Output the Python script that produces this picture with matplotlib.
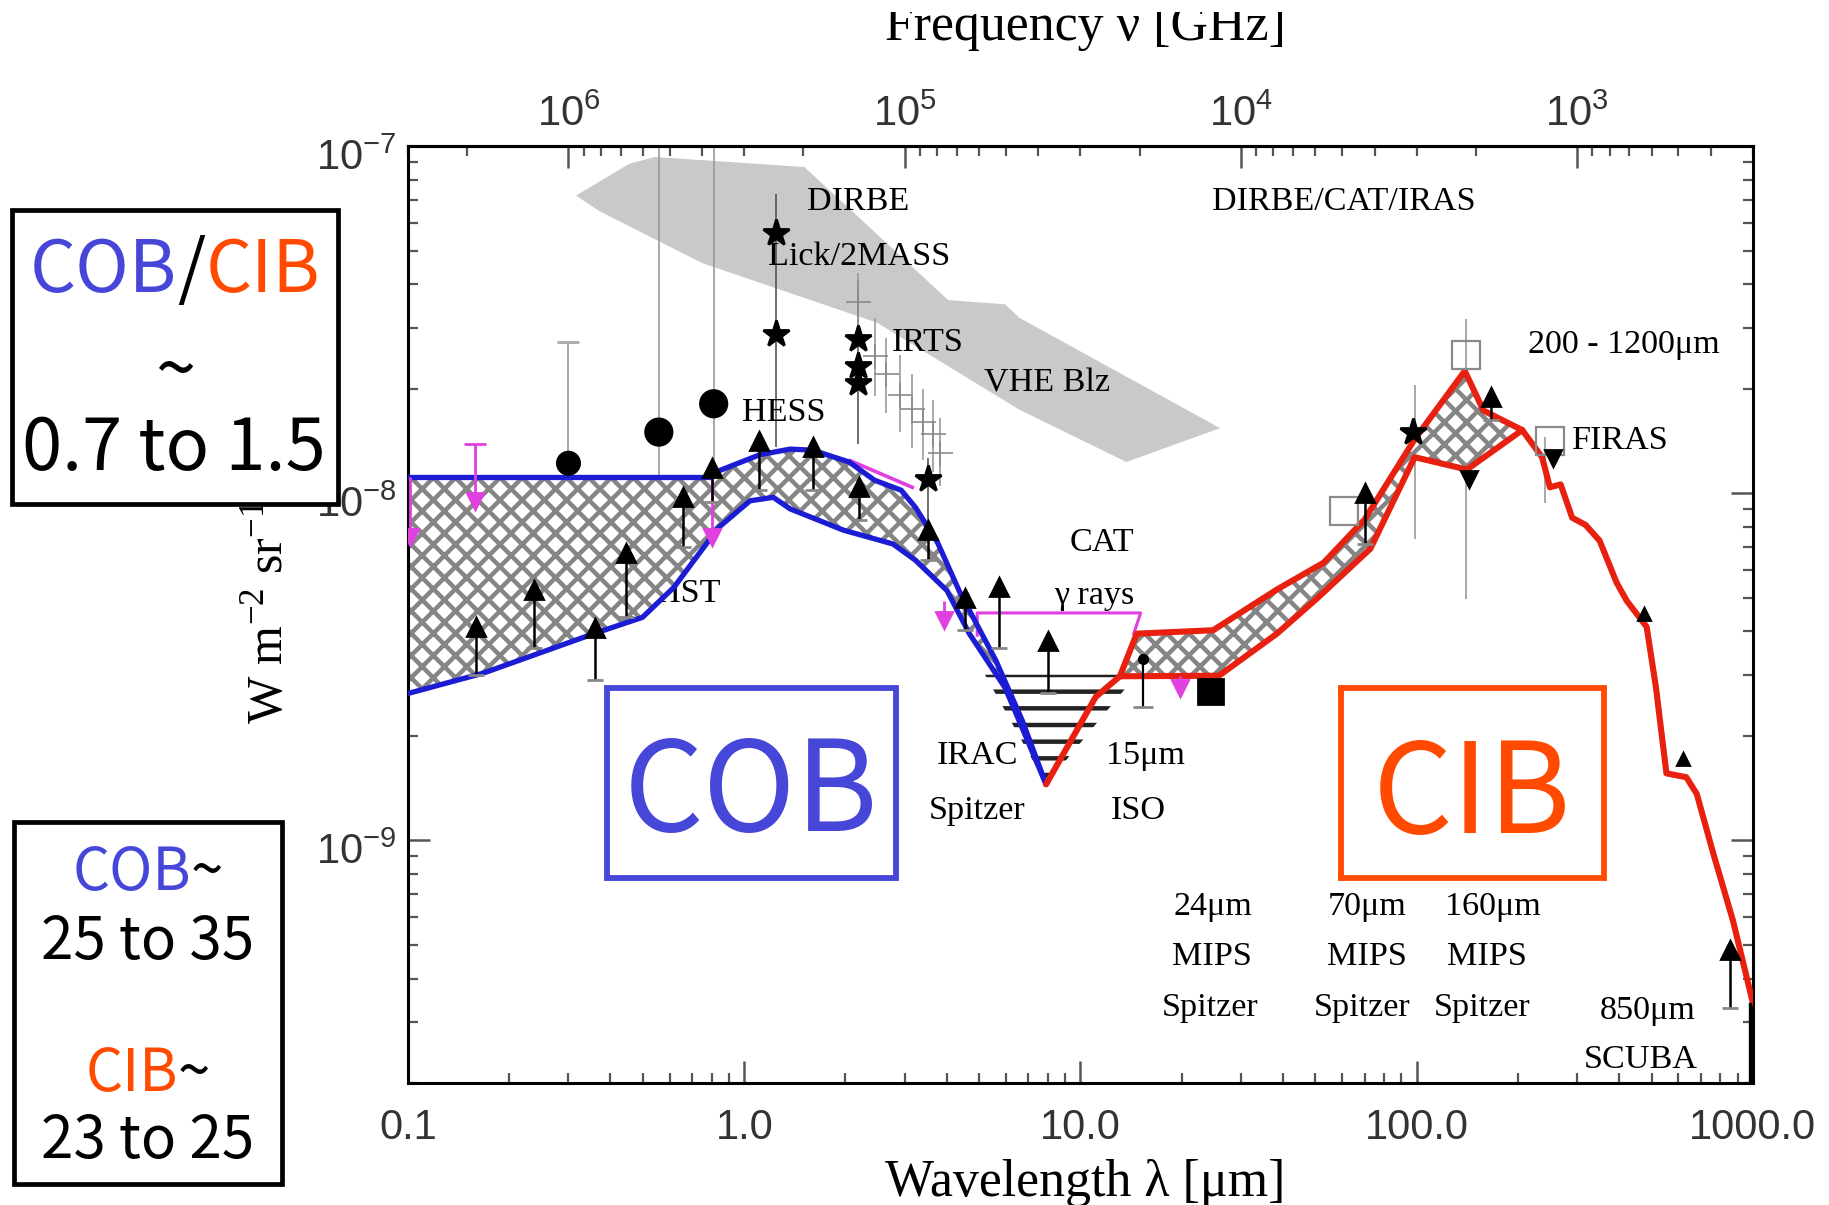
import numpy as np
import matplotlib
matplotlib.use("Agg")
import matplotlib.pyplot as plt
from matplotlib.patches import Rectangle
from matplotlib.ticker import LogLocator, NullFormatter
from matplotlib.transforms import ScaledTranslation

plt.rcParams["font.family"] = ["Liberation Sans", "DejaVu Sans"]
plt.rcParams["mathtext.fontset"] = "custom"
plt.rcParams["mathtext.rm"] = "Liberation Sans"
plt.rcParams["hatch.linewidth"] = 1.6

SERIF = ["Liberation Serif", "DejaVu Serif"]
BOXFONT = ["Noto Sans CJK JP", "DejaVu Sans"]
BLUE_TXT = "#4646d8"
ORANGE = "#ff4a00"
BLUE_LINE = "#1c1cd4"
RED_LINE = "#e8200f"
MAGENTA = "#e040e0"

# ---- data (wavelength in micron, nu I_nu in W m^-2 sr^-1) ----
band_lam = [0.316, 0.456, 0.543, 1.51, 4.04, 5.97, 6.58, 26.0, 13.7, 6.58, 2.48, 1.19, 0.75, 0.37]
band_y = [7.2e-8, 8.9e-8, 9.3e-8, 8.7e-8, 3.6e-8, 3.5e-8, 3.2e-8, 1.54e-8, 1.23e-8, 1.74e-8,
          3.1e-8, 3.95e-8, 4.6e-8, 6.5e-8]

cob_up_lam = [0.1, 0.80, 0.84, 1.11, 1.37, 1.60, 2.05, 2.44, 2.93, 3.23, 3.76, 4.37, 5.60, 6.73, 7.9]
cob_up_y = [1.11e-8, 1.11e-8, 1.16e-8, 1.29e-8, 1.34e-8, 1.33e-8, 1.23e-8, 1.09e-8, 1.02e-8,
            9.1e-9, 7.2e-9, 5.2e-9, 3.3e-9, 2.2e-9, 1.45e-9]
cob_lo_lam = [0.1, 0.167, 0.357, 0.498, 0.618, 0.838, 1.04, 1.22, 1.37, 1.97, 2.77, 3.23, 4.01,
              4.67, 5.97, 7.9]
cob_lo_y = [2.65e-9, 3.03e-9, 3.94e-9, 4.39e-9, 5.36e-9, 7.96e-9, 9.51e-9, 9.73e-9, 9.01e-9,
            7.83e-9, 7.14e-9, 6.41e-9, 5.24e-9, 3.94e-9, 2.75e-9, 1.45e-9]

cib_up_lam = [13.1, 14.7, 24.8, 38.4, 52.9, 70.0, 98.6, 139, 158, 206]
cib_up_y = [2.97e-9, 3.94e-9, 4.03e-9, 5.28e-9, 6.31e-9, 8.4e-9, 1.43e-8, 2.25e-8, 1.73e-8, 1.52e-8]
cib_lo_lam = [13.1, 25.8, 38.4, 50.8, 72.8, 98.6, 141, 206]
cib_lo_y = [2.97e-9, 2.98e-9, 3.94e-9, 5.0e-9, 6.92e-9, 1.27e-8, 1.17e-8, 1.52e-8]
v_lam = [7.9, 11.1, 13.1]
v_y = [1.45e-9, 2.59e-9, 2.97e-9]
tail_lam = [206, 236, 249, 268, 290, 318, 350, 393, 422, 483, 515, 553, 634, 681, 762, 873, 1000]
tail_y = [1.52e-8, 1.27e-8, 1.04e-8, 1.06e-8, 8.5e-9, 8.1e-9, 7.3e-9, 5.53e-9, 4.89e-9, 4.12e-9,
          2.75e-9, 1.56e-9, 1.52e-9, 1.36e-9, 9.18e-10, 5.86e-10, 3.40e-10]

irac_lam = [5.2, 14.7, 7.9]
irac_y = [3.0e-9, 3.0e-9, 1.45e-9]

cat_lam = [4.93, 4.93, 15.1, 14.4]
cat_y = [3.9e-9, 4.52e-9, 4.52e-9, 3.94e-9]

mag_lam = [0.101, 0.158, 0.803, 3.94, 19.8]
mag_top = [1.11e-8, 1.39e-8, 1.11e-8, 4.9e-9, 2.98e-9]
mag_head = [7.5e-9, 9.5e-9, 7.5e-9, 4.3e-9, 2.75e-9]
mag_seg_lam = [2.07, 3.16]
mag_seg_y = [1.24e-8, 1.04e-8]

ll_lam = [0.159, 0.237, 0.359, 0.446, 0.659, 0.803, 1.107, 1.60, 2.20, 3.52, 4.52, 5.74, 8.03,
          70.0, 166, 853]
ll_head = [4.12e-9, 5.28e-9, 4.09e-9, 6.71e-9, 9.73e-9, 1.18e-8, 1.41e-8, 1.36e-8, 1.04e-8,
           7.83e-9, 5.0e-9, 5.36e-9, 3.76e-9, 1.0e-8, 1.89e-8, 4.83e-10]
ll_base = [3.0e-9, 3.59e-9, 2.89e-9, 4.39e-9, 6.98e-9, 9.44e-9, 1.02e-8, 1.02e-8, 8.4e-9,
           6.41e-9, 4.03e-9, 3.59e-9, 2.65e-9, 7.14e-9, 1.62e-8, 3.30e-10]

star_lam = [1.24, 1.24, 2.18, 2.18, 2.18, 3.52, 97.7]
star_y = [5.6e-8, 2.88e-8, 2.79e-8, 2.32e-8, 2.08e-8, 1.10e-8, 1.50e-8]
star_err_lam = [1.24, 2.18, 3.52]
star_err_lo = [1.36e-8, 1.39e-8, 6.56e-9]
star_err_hi = [7.28e-8, 4.1e-8, 1.26e-8]

irts_lam = [2.18, 2.44, 2.64, 2.91, 3.15, 3.41, 3.64, 3.82]
irts_y = [3.55e-8, 2.48e-8, 2.21e-8, 1.92e-8, 1.75e-8, 1.60e-8, 1.48e-8, 1.31e-8]
irts_lo = [2.9e-8, 1.9e-8, 1.7e-8, 1.5e-8, 1.35e-8, 1.25e-8, 1.15e-8, 1.05e-8]
irts_hi = [4.3e-8, 3.2e-8, 2.8e-8, 2.5e-8, 2.2e-8, 2.0e-8, 1.85e-8, 1.65e-8]

circ_lam = [0.30, 0.557, 0.811]
circ_y = [1.22e-8, 1.50e-8, 1.81e-8]
circ_lo = [1.12e-8, 1.12e-8, 1.15e-8]
circ_hi = [2.72e-8, 2e-7, 2e-7]
circ_size = [8.0, 9.5, 9.5]

sq_lam = [140, 60.6, 249]
sq_y = [2.50e-8, 8.87e-9, 1.41e-8]
cib_err_lam = [140, 98.6, 241]
cib_err_lo = [4.97e-9, 7.36e-9, 9.4e-9]
cib_err_hi = [3.18e-8, 2.05e-8, 1.45e-8]

dn_lam = [143, 255]
dn_y = [1.10e-8, 1.26e-8]
small_up_lam = [475, 619]
small_up_y = [4.49e-9, 1.72e-9]

fill_sq_lam = [24.2]
fill_sq_y = [2.69e-9]
iso_lam = [15.3]
iso_y = [3.32e-9]
iso_lo = [2.42e-9]
scuba_line_lam = [977, 977]
scuba_line_y = [3.38e-10, 1.9e-10]

labels = [
    ("DIRBE", 2.18, 6.9e-8),
    ("Lick/2MASS", 2.20, 4.8e-8),
    ("IRTS", 3.52, 2.72e-8),
    ("VHE Blz", 7.96, 2.08e-8),
    ("HESS", 1.31, 1.70e-8),
    ("DIRBE/CAT/IRAS", 60.6, 6.9e-8),
    ("200 - 1200μm", 412, 2.68e-8),
    ("FIRAS", 403, 1.42e-8),
    ("CAT", 11.6, 7.2e-9),
    ("γ rays", 11.0, 5.08e-9),
    ("IRAC", 4.93, 1.75e-9),
    ("Spitzer", 4.93, 1.22e-9),
    ("15μm", 15.6, 1.75e-9),
    ("ISO", 14.9, 1.22e-9),
    ("24μm", 24.8, 6.43e-10),
    ("MIPS", 24.6, 4.61e-10),
    ("Spitzer", 24.3, 3.30e-10),
    ("70μm", 71.1, 6.43e-10),
    ("MIPS", 71.1, 4.61e-10),
    ("Spitzer", 69.0, 3.30e-10),
    ("160μm", 168, 6.43e-10),
    ("MIPS", 162, 4.61e-10),
    ("Spitzer", 157, 3.30e-10),
    ("850μm", 487, 3.23e-10),
    ("SCUBA", 465, 2.33e-10),
]
hst_label = ("HST", 0.68, 5.12e-9)

x_ticks = [0.1, 1.0, 10.0, 100.0, 1000.0]
x_tick_labels = ["0.1", "1.0", "10.0", "100.0", "1000.0"]
y_ticks = [1e-9, 1e-8, 1e-7]
y_tick_labels = [r"$\mathregular{10^{-9}}$", r"$\mathregular{10^{-8}}$", r"$\mathregular{10^{-7}}$"]
freq_ticks = [1e6, 1e5, 1e4, 1e3]
freq_labels = [r"$\mathregular{10^{6}}$", r"$\mathregular{10^{5}}$",
               r"$\mathregular{10^{4}}$", r"$\mathregular{10^{3}}$"]


def lam_to_ghz(lam):
    lam = np.asarray(lam, dtype=float)
    with np.errstate(divide="ignore"):
        return 3.0e5 / lam


def text_pieces(fig, renderer, xc, y, pieces, size, va="baseline"):
    arts = [fig.text(0, y, s, color=c, fontsize=size, family=BOXFONT,
                     ha="left", va=va, zorder=6) for s, c in pieces]
    widths = [a.get_window_extent(renderer).width / fig.bbox.width for a in arts]
    x = xc - sum(widths) / 2
    for a, w in zip(arts, widths):
        a.set_x(x)
        x += w


fig = plt.figure(figsize=(9.145, 6.025), dpi=200)
ax = fig.add_axes([0.2231, 0.1012, 0.7353, 0.7776])
ax.set_xscale("log")
ax.set_yscale("log")
ax.set_xlim(0.1, 1000)
ax.set_ylim(2.0e-10, 1e-7)

# gray VHE blazar band
ax.fill(band_lam, band_y, color="#c9c9c9", lw=0, zorder=1)

# thin gray error lines
ax.vlines(circ_lam, circ_lo, circ_hi, color="#9a9a9a", lw=0.6, zorder=1.5)
ax.plot([circ_lam[0]], [circ_hi[0]], marker="_", ms=8, color="#aaaaaa", ls="none", zorder=1.5)
ax.vlines(star_err_lam, star_err_lo, star_err_hi, color="#555555", lw=0.6, zorder=1.5)
ax.vlines(irts_lam, irts_lo, irts_hi, color="#9a9a9a", lw=0.6, zorder=1.5)
ax.vlines(cib_err_lam, cib_err_lo, cib_err_hi, color="#9a9a9a", lw=0.6, zorder=1.5)

ax.text(hst_label[1], hst_label[2], hst_label[0], ha="center", va="center",
        family=SERIF, fontsize=12.3, zorder=1.8)

# hatched COB and CIB regions
ax.fill(cob_up_lam + cob_lo_lam[::-1], cob_up_y + cob_lo_y[::-1],
        facecolor="white", edgecolor="#858585", hatch="xxx", lw=0, zorder=2)
ax.fill(cib_up_lam + cib_lo_lam[::-1], cib_up_y + cib_lo_y[::-1],
        facecolor="white", edgecolor="#858585", hatch="xxx", lw=0, zorder=2)
ax.fill(irac_lam, irac_y, facecolor="none", edgecolor="#222222", hatch="--", lw=0, zorder=2)

# CAT gamma-ray box
ax.plot(cat_lam, cat_y, color=MAGENTA, lw=1.1, zorder=2.5)

# COB outline
ax.plot(cob_up_lam, cob_up_y, color=BLUE_LINE, lw=1.9, zorder=3, solid_capstyle="round")
ax.plot(cob_lo_lam, cob_lo_y, color=BLUE_LINE, lw=1.9, zorder=3, solid_capstyle="round")
ax.plot(mag_seg_lam, mag_seg_y, color=MAGENTA, lw=1.3, zorder=2.9)

# CIB outline
for xs, ys in [(v_lam, v_y), (cib_up_lam, cib_up_y), (cib_lo_lam, cib_lo_y), (tail_lam, tail_y)]:
    ax.plot(xs, ys, color=RED_LINE, lw=2.2, zorder=3, solid_capstyle="round",
            solid_joinstyle="round")

# upper limits (magenta)
ax.vlines(mag_lam, mag_head, mag_top, color=MAGENTA, lw=1.0, zorder=3.5)
ax.plot(mag_lam, mag_head, "v", ms=6, color=MAGENTA, ls="none", zorder=3.5)
ax.plot([mag_lam[1]], [mag_top[1]], "_", ms=8, mew=1.0, color=MAGENTA, zorder=3.5)

# lower limits (black arrows)
ax.vlines(ll_lam, ll_base, ll_head, color="black", lw=0.9, zorder=4)
ax.plot(ll_lam, ll_head, "^", ms=6.5, color="black", ls="none", zorder=4)
ax.plot(ll_lam, ll_base, "_", ms=6, color="#888888", ls="none", zorder=4)

# other points
ax.plot(irts_lam, irts_y, "+", ms=9, mew=0.6, color="#8a8a8a", ls="none", zorder=3.6)
ax.plot(star_lam, star_y, "*", ms=10, color="black", ls="none", zorder=4)
ax.scatter(circ_lam, circ_y, s=[v ** 2 for v in circ_size], color="black", zorder=4)
ax.plot(sq_lam, sq_y, "s", ms=10, mfc="none", mec="#8a8a8a", mew=0.8, ls="none", zorder=3.6)
ax.plot(dn_lam, dn_y, "v", ms=6, color="black", ls="none", zorder=4)
ax.plot(small_up_lam, small_up_y, "^", ms=4, color="black", ls="none", zorder=4)
ax.plot(fill_sq_lam, fill_sq_y, "s", ms=9, color="black", ls="none", zorder=4)
ax.vlines(iso_lam, iso_lo, iso_y, color="black", lw=0.8, zorder=4)
ax.plot(iso_lam, iso_y, "o", ms=3, color="black", ls="none", zorder=4)
ax.plot(iso_lam, iso_lo, "_", ms=7, color="#888888", ls="none", zorder=4)
ax.plot(scuba_line_lam, scuba_line_y, color="black", lw=1.2, zorder=4, clip_on=True)

for s, lx, ly in labels:
    ax.text(lx, ly, s, ha="center", va="center", family=SERIF, fontsize=12.3, zorder=3.8)

# axes styling
for sp in ax.spines.values():
    sp.set_linewidth(1.1)
ax.set_xticks(x_ticks, labels=x_tick_labels)
ax.set_yticks(y_ticks, labels=y_tick_labels)
ax.xaxis.set_minor_locator(LogLocator(base=10, subs=np.arange(2, 10)))
ax.yaxis.set_minor_locator(LogLocator(base=10, subs=np.arange(2, 10)))
ax.xaxis.set_minor_formatter(NullFormatter())
ax.yaxis.set_minor_formatter(NullFormatter())
ax.tick_params(which="both", direction="in", color="#555555", right=True, top=False)
ax.tick_params(which="major", length=8, width=0.9, labelsize=15, labelcolor="#333333")
ax.tick_params(which="minor", length=3.5, width=0.8)
ax.tick_params(axis="x", which="major", pad=9)
ax.tick_params(axis="y", which="major", pad=4)
shift_down = ScaledTranslation(0, -3.0 / 72, fig.dpi_scale_trans)
for lab in ax.get_yticklabels():
    lab.set_transform(lab.get_transform() + shift_down)

sec = ax.secondary_xaxis("top", functions=(lam_to_ghz, lam_to_ghz))
sec.set_ticks(freq_ticks, labels=freq_labels)
sec.xaxis.set_minor_locator(LogLocator(base=10, subs=np.arange(2, 10)))
sec.xaxis.set_minor_formatter(NullFormatter())
sec.tick_params(which="both", direction="in", color="#555555")
sec.tick_params(which="major", length=8, width=0.9, labelsize=15, labelcolor="#333333", pad=4)
sec.tick_params(which="minor", length=3.5, width=0.8)
sec.spines["top"].set_linewidth(1.1)

fig.text(0.5932, 0.9668, "Frequency ν [GHz]", ha="center", va="baseline",
         family=SERIF, fontsize=18.7)
fig.text(0.5932, 0.0075, "Wavelength λ [μm]", ha="center", va="baseline",
         family=SERIF, fontsize=18.7)
fig.text(0.1476, 0.4921, r"W m$^{\mathregular{-2}}$ sr$^{\mathregular{-1}}$", rotation=90,
         ha="center", va="center", family=SERIF, fontsize=18)
# the source image is cropped through the top title
fig.add_artist(Rectangle((0, 0.990), 1, 0.010, transform=fig.transFigure,
                         facecolor="white", edgecolor="none", zorder=7))

# annotation boxes
renderer = fig.canvas.get_renderer()
fig.add_artist(Rectangle((0.00656, 0.5817), 0.1782, 0.2440, transform=fig.transFigure,
                         facecolor="white", edgecolor="black", lw=1.7, zorder=5))
text_pieces(fig, renderer, 0.0957, 0.7577,
            [("COB", BLUE_TXT), ("/", "black"), ("CIB", ORANGE)], 26)
fig.text(0.0957, 0.6900, "~", ha="center", va="center", family=BOXFONT, fontsize=26, zorder=6)
fig.text(0.0951, 0.6100, "0.7 to 1.5", ha="center", va="baseline", family=BOXFONT,
         fontsize=26, zorder=6)

fig.add_artist(Rectangle((0.00765, 0.0174), 0.1465, 0.3004, transform=fig.transFigure,
                         facecolor="white", edgecolor="black", lw=1.7, zorder=5))
text_pieces(fig, renderer, 0.0809, 0.2614, [("COB", BLUE_TXT), ("~", "black")], 21)
fig.text(0.0809, 0.2041, "25 to 35", ha="center", va="baseline", family=BOXFONT,
         fontsize=21, zorder=6)
text_pieces(fig, renderer, 0.0809, 0.0946, [("CIB", ORANGE), ("~", "black")], 21)
fig.text(0.0809, 0.0390, "23 to 25", ha="center", va="baseline", family=BOXFONT,
         fontsize=21, zorder=6)

fig.add_artist(Rectangle((0.3319, 0.2714), 0.1580, 0.1577, transform=fig.transFigure,
                         facecolor="white", edgecolor=BLUE_TXT, lw=2.1, zorder=5))
fig.text(0.4106, 0.3104, "COB", ha="center", va="baseline", family=BOXFONT, fontsize=45,
         color=BLUE_TXT, zorder=6)
fig.add_artist(Rectangle((0.7332, 0.2714), 0.1438, 0.1577, transform=fig.transFigure,
                         facecolor="white", edgecolor=ORANGE, lw=2.1, zorder=5))
fig.text(0.8048, 0.3087, "CIB", ha="center", va="baseline", family=BOXFONT, fontsize=45,
         color=ORANGE, zorder=6)

fig.savefig("out.png", dpi=200)
